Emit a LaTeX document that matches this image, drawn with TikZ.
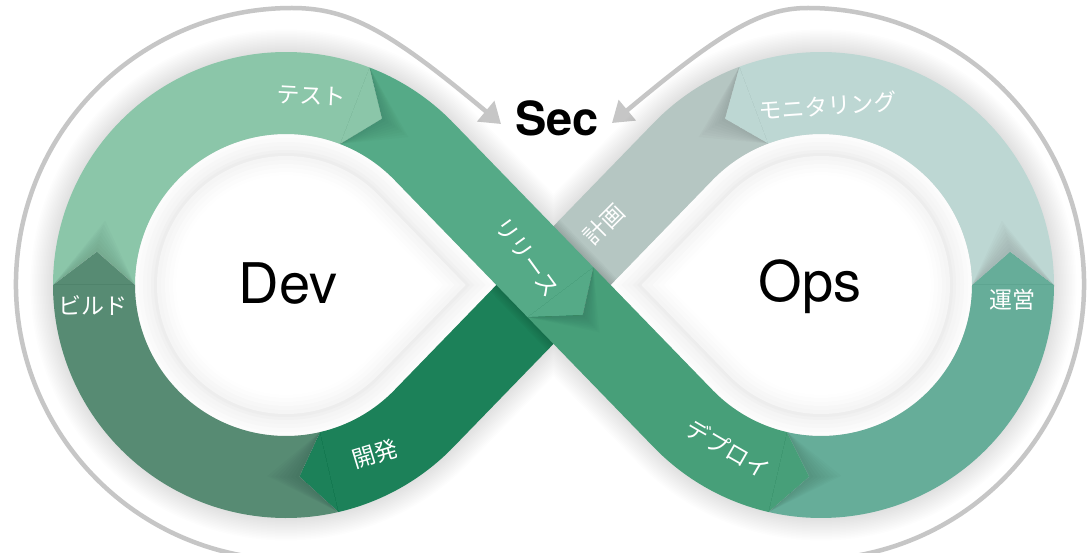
\documentclass[tikz,border=0pt]{standalone}
\usepackage{fontspec}
\setmainfont{TeX Gyre Heros}
\newfontfamily\jpfont{Noto Sans CJK JP}
\usetikzlibrary{calc,arrows.meta}
\definecolor{cKai}{HTML}{1C8159}
\definecolor{cBld}{HTML}{578B73}
\definecolor{cTst}{HTML}{8BC6A9}
\definecolor{cRel}{HTML}{55AA87}
\definecolor{cDep}{HTML}{479F79}
\definecolor{cUne}{HTML}{66AD99}
\definecolor{cMon}{HTML}{BDD7D3}
\definecolor{cKei}{HTML}{B5C6C2}
\definecolor{cArc}{HTML}{C6C6C6}
\newcommand\myarcshadow[4]{%
  \foreach \d in {1,...,8}{
    \fill[black,opacity=0.016,even odd rule]
      ($(#1)+(#2:233)$) -- ($(#1)+({#3+#4*\d}:192)$) -- ($(#1)+(#2:151)$) -- cycle
      ($(#1)+(#2:233)$) -- ($(#1)+(#3:192)$) -- ($(#1)+(#2:151)$) -- cycle;
  }}
\begin{document}
\begin{tikzpicture}[x=1pt,y=-1pt,
  lbl/.style={text=white,font=\jpfont\fontsize{23}{23}\selectfont,inner sep=0pt},
  bigtxt/.style={text=black,font=\fontsize{56}{56}\selectfont,inner sep=0pt,anchor=base},
  sectxt/.style={text=black,font=\bfseries\fontsize{47}{47}\selectfont,inner sep=0pt,anchor=base},
  garc/.style={draw=cArc,line width=4.5pt,-{Triangle[length=20pt,width=26pt]}}]
\useasboundingbox (0,0) rectangle (1087,553);
\fill[white] (0,0) rectangle (1087,553);
\coordinate (CL) at (286,285);
\coordinate (CR) at (821,285);
\coordinate (P) at (553.5,285);
\coordinate (GL) at (292,284);
\coordinate (GR) at (808,284);
\coordinate (secL) at (501,124);
\coordinate (secR) at (612,123);

% outer grey arcs
\draw[garc] ($(GL)+(100:276)$) arc[start angle=100,end angle=270,radius=276]
  .. controls (349,8) and (390,31) .. (secL);
\draw[garc] ($(GR)+(80:276)$) arc[start angle=80,end angle=-90,radius=276]
  .. controls (761,8) and (722,31) .. (secR);

% soft shadow of the band
\foreach \k in {1,...,15}{
  \draw[black,opacity=0.006,line width={82+3*\k},line join=round]
    (P) -- ($(CL)+(44.13:192)$) arc[start angle=44.13,end angle=315.87,radius=192]
    -- (P) -- ($(CR)+(135.87:192)$) arc[start angle=135.87,end angle=-135.87,radius=192] -- cycle;
}

% holes
\foreach \s/\g in {41/1,45/2,49/3,53/4,57/5.5,60/7,63/4,67/3,71/2,75/1.2,79/0.5,82/0}{
  \pgfmathsetmacro\rr{192-\s}
  \pgfmathsetmacro\vv{\s/0.7178}
  \fill[black!\g] ($(CL)+(44.13:\rr)$) arc[start angle=44.13,end angle=315.87,radius=\rr] -- ($(P)+(-\vv,0)$) -- cycle;
  \fill[black!\g] ($(CR)+(135.87:\rr)$) arc[start angle=135.87,end angle=-135.87,radius=\rr] -- ($(P)+(\vv,0)$) -- cycle;
}

% band segments
% plan
\fill[cKei] ($(CR)+(-110.5:151)$) -- ($(CR)+(-120:192)$) -- ($(CR)+(-110.5:233)$)
  arc[start angle=-110.5,end angle=-135.87,radius=233]
  -- ($(P)+(224.13:41)+(134.13:10)$) -- ($(P)+(44.13:41)+(134.13:10)$)
  -- ($(CR)+(-135.87:151)$) arc[start angle=-135.87,end angle=-110.5,radius=151] -- cycle;
% develop
\fill[cKai] ($(P)+(44.13:41)$) -- ($(CL)+(44.13:233)$)
  arc[start angle=44.13,end angle=77,radius=233]
  -- ($(CL)+(86:192)$) -- ($(CL)+(77:151)$)
  arc[start angle=77,end angle=44.13,radius=151] -- ($(P)+(224.13:41)$) -- cycle;
% shadow of the crossing band
\begin{scope}
  \clip ($(P)+(44.13:41)+(314.13:120)$) -- ($(P)+(224.13:41)+(314.13:120)$)
     -- ($(P)+(224.13:41)+(134.13:120)$) -- ($(P)+(44.13:41)+(134.13:120)$) -- cycle;
  \foreach \k in {1,...,6}{
    \draw[black,opacity=0.022,line width={82+3*\k}] ($(P)+(225.87:80)$) -- ($(P)+(45.87:80)$);
  }
\end{scope}
% build
\fill[cBld] ($(CL)+(77:151)$) -- ($(CL)+(86:192)$) -- ($(CL)+(77:233)$)
  arc[start angle=77,end angle=180,radius=233]
  -- ($(CL)+(190:192)$) -- ($(CL)+(180:151)$)
  arc[start angle=180,end angle=77,radius=151] -- cycle;
% test
\fill[cTst] ($(CL)+(180:151)$) -- ($(CL)+(190:192)$) -- ($(CL)+(180:233)$)
  arc[start angle=180,end angle=291,radius=233]
  -- ($(CL)+(300:192)$) -- ($(CL)+(291:151)$)
  arc[start angle=291,end angle=180,radius=151] -- cycle;
% deploy
\fill[cDep] ($(P)+(135.87:41)+(45.87:5)$) -- ($(P)+(45.87:42)$) -- ($(P)+(315.87:41)+(45.87:15)$)
  -- ($(CR)+(135.87:151)$) arc[start angle=135.87,end angle=103,radius=151]
  -- ($(CR)+(93.5:192)$) -- ($(CR)+(103:233)$)
  arc[start angle=103,end angle=135.87,radius=233] -- cycle;
% release
\fill[cRel] ($(CL)+(291:151)$) -- ($(CL)+(300:192)$) -- ($(CL)+(291:233)$)
  arc[start angle=291,end angle=315.87,radius=233]
  -- ($(P)+(315.87:41)+(45.87:15)$) -- ($(P)+(45.87:42)$) -- ($(P)+(135.87:41)+(45.87:5)$)
  -- ($(CL)+(315.87:151)$) arc[start angle=315.87,end angle=291,radius=151] -- cycle;
% operate
\fill[cUne] ($(CR)+(103:233)$) -- ($(CR)+(93.5:192)$) -- ($(CR)+(103:151)$)
  arc[start angle=103,end angle=0,radius=151]
  -- ($(CR)+(-10:192)$) -- ($(CR)+(0:233)$)
  arc[start angle=0,end angle=103,radius=233] -- cycle;
% monitoring
\fill[cMon] ($(CR)+(0:151)$) -- ($(CR)+(-10:192)$) -- ($(CR)+(0:233)$)
  arc[start angle=0,end angle=-110.5,radius=233]
  -- ($(CR)+(-120:192)$) -- ($(CR)+(-110.5:151)$)
  arc[start angle=-110.5,end angle=0,radius=151] -- cycle;

% chevron shadows
\myarcshadow{CL}{77}{86}{1.2}
\myarcshadow{CL}{180}{190}{1.2}
\myarcshadow{CL}{291}{300}{1.2}
\myarcshadow{CR}{103}{93.5}{-1.2}
\myarcshadow{CR}{0}{-10}{-1.2}
\myarcshadow{CR}{-110.5}{-120}{-1.2}
\foreach \d in {1,...,8}{
  \fill[black,opacity=0.016,even odd rule]
    ($(P)+(315.87:41)+(45.87:15)$) -- ($(P)+(45.87:{42+3*\d})$) -- ($(P)+(135.87:41)+(45.87:5)$) -- cycle
    ($(P)+(315.87:41)+(45.87:15)$) -- ($(P)+(45.87:42)$) -- ($(P)+(135.87:41)+(45.87:5)$) -- cycle;
}

% labels
\node[lbl,rotate=-3] (tst) at (311,96) {テスト};
\node[lbl] (bld) at (93,306) {ビルド};
\node[lbl,rotate=17] (kai) at (375,454) {開発};
\node[lbl,rotate=-54] (rel) at (527,257) {リリース};
\node[lbl,rotate=45] (kei) at (604,224) {計画};
\node[lbl,rotate=-30] (dep) at (728,449) {デプロイ};
\node[lbl] (une) at (1012,300) {運営};
\node[lbl,rotate=4] (mon) at (828,106) {モニタリング};

\node[bigtxt] (dev) at (288,304) {Dev};
\node[bigtxt] (ops) at (810,302) {Ops};
\node[sectxt] (sec) at (557,136) {Sec};
\end{tikzpicture}
\end{document}
